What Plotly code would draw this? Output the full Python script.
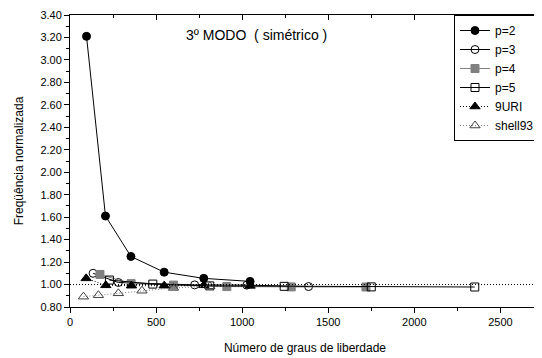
import plotly.graph_objects as go

# ---- data ----
p2_x = [96, 206, 354, 547, 777, 1046]
p2_y = [3.21, 1.61, 1.25, 1.11, 1.055, 1.028]

p3_x = [134, 281, 724, 1027, 1386]
p3_y = [1.10, 1.018, 0.997, 0.995, 0.982]

p4_x = [174, 355, 601, 911, 1285, 1719]
p4_y = [1.09, 1.008, 0.995, 0.982, 0.979, 0.978]

p5_x = [229, 481, 812, 1244, 1750, 2351]
p5_y = [1.04, 1.004, 0.988, 0.984, 0.979, 0.978]

uri_x = [94, 208, 357, 547, 777, 1046]
uri_y = [1.055, 0.993, 0.99, 0.99, 0.993, 0.988]

shell_x = [78, 165, 281, 418, 601, 812]
shell_y = [0.892, 0.905, 0.922, 0.945, 0.97, 0.985]

ref_y = 1.0

x_range = [0, 2730]
y_range = [0.8, 3.4]

title_text = "3º MODO\u00a0\u00a0( simétrico )"
x_title = "Número de graus de liberdade"
y_title = "Freqüência normalizada"

FONT = "Liberation Sans, Arial, sans-serif"
DOT = "1px,2px"

fig = go.Figure()

series = [
    ("p=2", p2_x, p2_y, dict(color="black", width=1, dash="solid"),
     dict(symbol="circle", size=8, color="black", line=dict(color="black", width=1))),
    ("p=3", p3_x, p3_y, dict(color="black", width=1, dash="solid"),
     dict(symbol="circle-open", size=8, color="black", line=dict(color="black", width=1))),
    ("p=4", p4_x, p4_y, dict(color="#808080", width=1, dash="solid"),
     dict(symbol="square", size=8, color="#808080", line=dict(color="#808080", width=1))),
    ("p=5", p5_x, p5_y, dict(color="black", width=1, dash="solid"),
     dict(symbol="square-open", size=8, color="black", line=dict(color="black", width=1))),
    ("9URI", uri_x, uri_y, dict(color="black", width=1, dash=DOT),
     dict(symbol="triangle-up", size=9, color="black", line=dict(color="black", width=1))),
    ("shell93", shell_x, shell_y, dict(color="#808080", width=1, dash=DOT),
     dict(symbol="triangle-up-open", size=9, color="#404040", line=dict(color="#404040", width=1))),
]

for name, xs, ys, ln, mk in series:
    fig.add_trace(go.Scatter(x=xs, y=ys, name=name, mode="lines+markers",
                             line=ln, marker=mk, cliponaxis=True))

# invisible trace on mirror axes (for inward ticks at top/right)
fig.add_trace(go.Scatter(x=[None], y=[None], xaxis="x2", yaxis="y2",
                         showlegend=False, hoverinfo="skip"))

fig.add_shape(type="line", xref="paper", x0=0, x1=1, yref="y", y0=ref_y, y1=ref_y,
              line=dict(color="black", width=1, dash=DOT))

fig.add_annotation(text=title_text, xref="paper", yref="paper", x=0.396, y=0.93,
                   xanchor="center", yanchor="middle",
                   showarrow=False, font=dict(family=FONT, size=14, color="black"))

axis_common = dict(showline=True, linecolor="black", linewidth=1, showgrid=False,
                   zeroline=False, ticklen=5, tickwidth=1, tickcolor="black")

fig.update_layout(
    width=534, height=350,
    margin=dict(l=62, r=2, t=7, b=51),
    paper_bgcolor="white", plot_bgcolor="white",
    font=dict(family=FONT, size=11, color="black"),
    xaxis=dict(range=x_range, dtick=500, tick0=0, ticks="outside",
               minor=dict(dtick=250, ticks="outside", ticklen=3, tickcolor="black"),
               title=dict(text=x_title, font=dict(size=12), standoff=16),
               **axis_common),
    yaxis=dict(range=y_range, dtick=0.2, tick0=0.8, ticks="outside", tickformat=".2f",
               minor=dict(dtick=0.1, ticks="outside", ticklen=3, tickcolor="black"),
               title=dict(text=y_title, font=dict(size=12), standoff=14),
               **axis_common),
    xaxis2=dict(range=x_range, overlaying="x", side="top", dtick=500, tick0=0,
                ticks="inside", showticklabels=False, anchor="y2",
                minor=dict(dtick=250, ticks="inside", ticklen=3, tickcolor="black"),
                **axis_common),
    yaxis2=dict(range=y_range, overlaying="y", side="right", dtick=0.2, tick0=0.8,
                ticks="inside", showticklabels=False, anchor="x2",
                minor=dict(dtick=0.1, ticks="inside", ticklen=3, tickcolor="black"),
                **axis_common),
    legend=dict(x=1, xanchor="right", y=1, yanchor="top", bgcolor="white",
                bordercolor="black", borderwidth=1,
                font=dict(family=FONT, size=12, color="black"),
                tracegroupgap=0),
    showlegend=True,
)

fig.write_html("out.html")
